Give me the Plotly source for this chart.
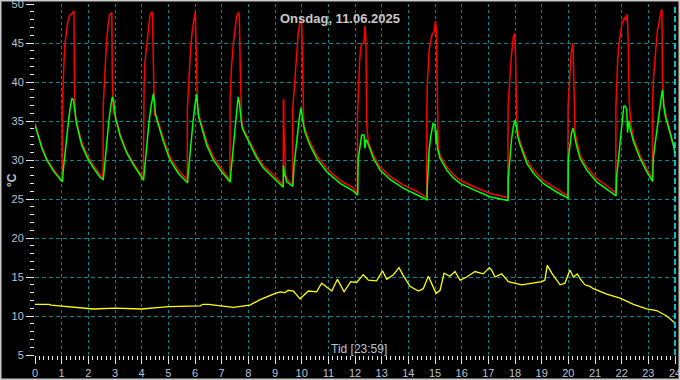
import plotly.graph_objects as go

# ---- data ----
red_t = [0.00, 0.13, 0.25, 0.44, 0.69, 1.01,
         1.02, 1.025, 1.05, 1.11, 1.17, 1.24, 1.31, 1.40, 1.46, 1.48, 1.52, 1.56, 1.75, 1.96, 2.19, 2.44, 2.54,
         2.55, 2.56, 2.62, 2.68, 2.74, 2.80, 2.88, 2.90, 2.94, 3.02, 3.20, 3.44, 3.69, 3.94, 4.05,
         4.06, 4.065, 4.09, 4.12, 4.19, 4.25, 4.31, 4.40, 4.44, 4.48, 4.56, 4.81, 5.06, 5.37, 5.70,
         5.71, 5.715, 5.77, 5.83, 5.90, 5.96, 6.01, 6.06, 6.10, 6.19, 6.44, 6.69, 7.00, 7.30,
         7.31, 7.315, 7.37, 7.44, 7.50, 7.56, 7.62, 7.66, 7.70, 7.75, 7.81, 8.06, 8.31, 8.56, 8.94, 9.30,
         9.31, 9.315, 9.33, 9.335, 9.36, 9.40, 9.50, 9.65,
         9.66, 9.665, 9.69, 9.75, 9.81, 9.87, 9.94, 9.97, 10.00, 10.04, 10.08, 10.12, 10.31, 10.56, 10.94, 11.44, 11.94, 12.08,
         12.09, 12.095, 12.13, 12.17, 12.21, 12.25, 12.33, 12.38, 12.41, 12.44, 12.50, 12.69, 12.94, 13.31, 13.81, 14.31, 14.68,
         14.69, 14.695, 14.71, 14.75, 14.78, 14.84, 14.90, 14.96, 15.02, 15.05, 15.09, 15.12, 15.19, 15.44, 15.69, 15.94, 16.44, 17.06, 17.72,
         17.73, 17.74, 17.79, 17.84, 17.87, 17.91, 17.94, 17.99, 18.02, 18.06, 18.10, 18.19, 18.44, 18.69, 19.06, 19.56, 19.97,
         19.98, 19.99, 20.03, 20.06, 20.10, 20.14, 20.16, 20.18, 20.21, 20.25, 20.44, 20.69, 21.06, 21.44, 21.77,
         21.78, 21.785, 21.81, 21.85, 21.90, 21.96, 22.02, 22.10, 22.16, 22.21, 22.25, 22.28, 22.35, 22.44, 22.69, 22.94, 23.14,
         23.15, 23.155, 23.19, 23.25, 23.29, 23.34, 23.39, 23.44, 23.48, 23.51, 23.53, 23.58, 23.64, 23.69, 23.81, 23.94, 24.00]
red_v = [34.7, 33.1, 31.8, 30.2, 28.8, 27.4,
         27.3, 37.1, 40.3, 44.5, 46.2, 47.9, 48.6, 48.8, 49.1, 39.4, 35.6, 34.8, 32.3, 30.6, 29.3, 28.1, 27.8,
         27.7, 37.0, 41.6, 45.0, 47.3, 48.6, 48.9, 40.0, 36.0, 35.6, 33.2, 31.1, 29.6, 28.3, 27.7,
         27.5, 36.5, 39.4, 42.4, 45.0, 47.1, 48.6, 49.0, 39.0, 35.8, 35.6, 32.8, 30.4, 28.7, 27.5,
         27.3, 36.5, 40.3, 44.1, 46.7, 48.2, 49.0, 42.0, 36.0, 35.3, 32.3, 30.4, 28.9, 27.6,
         27.4, 37.7, 42.0, 45.0, 47.1, 48.4, 48.9, 48.7, 41.2, 35.0, 34.0, 32.3, 30.6, 29.3, 28.1, 26.8,
         26.6, 37.7, 37.7, 34.1, 30.0, 28.0, 27.3, 26.9,
         26.9, 36.5, 37.7, 41.6, 44.1, 46.2, 47.7, 47.8, 47.5, 39.8, 34.5, 34.0, 32.3, 30.6, 28.9, 27.4, 26.4, 25.8,
         25.7, 36.0, 39.8, 42.4, 44.3, 44.9, 45.0, 47.2, 45.2, 34.5, 32.3, 30.6, 29.1, 27.9, 26.8, 26.0, 25.2,
         25.1, 36.0, 39.8, 42.0, 44.1, 45.3, 46.2, 46.3, 47.8, 46.5, 39.0, 31.7, 30.6, 29.1, 28.1, 27.4, 26.6, 25.7, 25.2,
         25.1, 36.8, 40.3, 42.2, 43.5, 44.5, 45.8, 46.2, 43.5, 36.0, 33.8, 32.3, 30.0, 28.7, 27.4, 26.3, 25.5,
         25.4, 36.8, 39.8, 42.0, 43.5, 44.4, 45.0, 44.5, 36.8, 33.5, 30.6, 29.1, 27.6, 26.7, 25.8,
         25.6, 36.8, 39.8, 42.7, 44.9, 46.4, 47.7, 48.2, 47.9, 48.7, 44.5, 37.7, 34.5, 32.8, 30.6, 28.9, 27.7,
         27.6, 36.8, 40.3, 42.9, 44.9, 46.6, 47.4, 48.5, 49.1, 49.3, 40.0, 37.2, 35.8, 35.2, 33.8, 32.1, 31.1]

green_t = [0.00, 0.13, 0.25, 0.44, 0.69, 1.02,
           1.03, 1.06, 1.12, 1.19, 1.25, 1.31, 1.38, 1.44, 1.50, 1.56, 1.75, 1.96, 2.19, 2.44, 2.55,
           2.56, 2.59, 2.65, 2.71, 2.77, 2.83, 2.90, 2.95, 2.99, 3.02, 3.20, 3.44, 3.69, 3.94, 4.06,
           4.07, 4.10, 4.16, 4.22, 4.28, 4.35, 4.42, 4.44, 4.48, 4.52, 4.56, 4.81, 5.06, 5.37, 5.71,
           5.72, 5.75, 5.81, 5.87, 5.93, 5.99, 6.04, 6.06, 6.10, 6.14, 6.19, 6.44, 6.69, 7.00, 7.31,
           7.32, 7.35, 7.41, 7.47, 7.53, 7.58, 7.62, 7.66, 7.71, 7.76, 7.81, 8.06, 8.31, 8.56, 8.94, 9.31,
           9.315, 9.36, 9.44, 9.55, 9.66,
           9.67, 9.71, 9.77, 9.82, 9.89, 9.94, 9.98, 10.02, 10.06, 10.12, 10.31, 10.56, 10.94, 11.44, 11.94, 12.09,
           12.10, 12.12, 12.19, 12.25, 12.34, 12.37, 12.41, 12.44, 12.50, 12.69, 12.94, 13.31, 13.81, 14.31, 14.69,
           14.70, 14.71, 14.75, 14.78, 14.84, 14.90, 14.93, 15.00, 15.04, 15.06, 15.09, 15.19, 15.44, 15.69, 15.94, 16.44, 17.06, 17.73,
           17.74, 17.75, 17.81, 17.87, 17.94, 18.00, 18.04, 18.10, 18.19, 18.44, 18.69, 19.06, 19.56, 19.98,
           19.99, 20.00, 20.06, 20.12, 20.18, 20.25, 20.29, 20.44, 20.69, 21.06, 21.44, 21.78,
           21.79, 21.81, 21.87, 21.94, 22.00, 22.04, 22.08, 22.14, 22.19, 22.22, 22.27, 22.32, 22.44, 22.69, 22.94, 23.15,
           23.16, 23.19, 23.25, 23.31, 23.37, 23.44, 23.50, 23.53, 23.58, 23.64, 23.69, 23.81, 23.94, 24.00]
green_v = [34.5, 32.9, 31.6, 30.0, 28.6, 27.2,
           27.3, 28.7, 30.9, 33.0, 34.8, 36.5, 37.9, 37.7, 35.7, 34.6, 31.9, 30.3, 29.0, 27.8, 27.5,
           27.5, 28.5, 31.0, 33.2, 35.0, 36.6, 38.1, 37.5, 35.8, 35.4, 33.0, 30.9, 29.4, 28.1, 27.4,
           27.4, 28.5, 31.0, 33.2, 35.0, 36.8, 38.3, 38.5, 37.5, 35.8, 35.3, 32.4, 30.0, 28.3, 27.1,
           27.1, 28.5, 31.0, 33.2, 35.0, 36.8, 38.2, 38.4, 37.0, 35.5, 34.9, 31.9, 30.0, 28.5, 27.2,
           27.2, 28.5, 31.0, 33.2, 35.0, 36.8, 38.1, 37.4, 35.5, 34.3, 33.8, 32.0, 30.3, 29.0, 27.7, 26.5,
           29.3, 28.2, 27.2, 26.9, 26.6,
           26.6, 29.1, 31.3, 33.0, 34.7, 36.1, 36.7, 35.5, 34.5, 33.6, 31.9, 30.2, 28.5, 27.0, 26.0, 25.5,
           25.5, 30.1, 31.7, 33.2, 33.2, 31.5, 32.6, 32.5, 32.0, 30.2, 28.7, 27.5, 26.4, 25.6, 24.9,
           24.9, 26.5, 29.7, 31.3, 33.0, 34.5, 34.7, 34.5, 32.1, 33.8, 31.5, 30.2, 28.7, 27.7, 27.0, 26.2, 25.3, 24.8,
           24.8, 27.8, 30.8, 32.6, 34.3, 35.1, 34.7, 33.0, 32.0, 29.6, 28.3, 27.0, 25.9, 25.1,
           25.1, 30.1, 32.1, 33.5, 34.1, 33.0, 32.1, 30.2, 28.7, 27.2, 26.3, 25.4,
           25.4, 27.8, 29.8, 32.4, 34.5, 36.1, 36.9, 36.9, 36.4, 33.5, 35.0, 34.0, 32.4, 30.2, 28.5, 27.3,
           27.3, 30.4, 32.1, 33.8, 35.5, 37.1, 38.4, 39.0, 36.9, 35.6, 35.0, 33.6, 31.9, 30.9]

yellow_t = [0.00, 0.54, 0.60, 0.94, 1.56, 2.19, 3.00, 4.00, 4.69, 5.00, 6.19, 6.30, 6.50, 6.94, 7.44,
            8.06, 8.44, 8.94, 9.19, 9.37, 9.50, 9.69, 9.94, 10.25, 10.56, 10.75, 10.94, 11.13, 11.34,
            11.59, 11.84, 12.06, 12.31, 12.50, 12.81, 13.03, 13.19, 13.44, 13.65, 13.79, 14.06, 14.38,
            14.56, 14.75, 15.04, 15.19, 15.34, 15.56, 15.75, 15.94, 16.19, 16.50, 16.81, 17.04, 17.12,
            17.25, 17.50, 17.75, 18.25, 18.69, 19.00, 19.12, 19.21, 19.38, 19.56, 19.69, 19.87, 20.06,
            20.19, 20.34, 20.44, 20.62, 20.81, 20.94, 21.44, 21.94, 22.44, 22.94, 23.31, 23.69, 24.00]
yellow_v = [11.5, 11.5, 11.4, 11.3, 11.1, 10.9, 11.0, 10.9, 11.1, 11.2, 11.3, 11.5, 11.5, 11.3, 11.1,
            11.4, 12.1, 12.8, 13.1, 13.0, 13.3, 13.2, 12.2, 13.2, 13.1, 14.2, 13.7, 13.2, 14.7,
            13.1, 14.4, 14.3, 15.3, 14.6, 14.5, 15.8, 14.7, 15.3, 16.2, 15.3, 13.8, 13.2,
            13.5, 15.1, 12.9, 13.3, 15.5, 15.1, 15.7, 14.6, 15.0, 15.7, 15.4, 16.2, 15.9,
            15.0, 15.4, 14.4, 14.0, 14.2, 14.4, 14.6, 16.5, 15.5, 14.6, 14.0, 14.2, 15.9,
            15.0, 15.4, 14.8, 14.0, 13.8, 13.5, 12.8, 12.3, 11.5, 10.9, 10.7, 10.0, 9.1]

x_ticks = list(range(0, 25))
y_ticks = list(range(5, 51, 5))
title_text = "Onsdag, 11.06.2025"
x_title = "Tid [23:59]"
y_title = "°C"

# ---- figure ----
fig = go.Figure()
fig.add_trace(go.Scatter(x=red_t, y=red_v, mode="lines",
                         line=dict(color="#ff0000", width=1.5), hoverinfo="skip"))
fig.add_trace(go.Scatter(x=green_t, y=green_v, mode="lines",
                         line=dict(color="#00ff00", width=1.5), hoverinfo="skip"))
fig.add_trace(go.Scatter(x=yellow_t, y=yellow_v, mode="lines",
                         line=dict(color="#ffff00", width=1.3), hoverinfo="skip"))

tick_col = "#e6e6e6"
lab_col = "#b8c4d2"
grid_col = "#008c8c"

fig.update_layout(
    width=680, height=380,
    margin=dict(l=35, r=5, t=4, b=25, autoexpand=False),
    paper_bgcolor="#000000", plot_bgcolor="#000000",
    showlegend=False,
    font=dict(family="Liberation Sans, Arial, sans-serif", size=11, color=lab_col),
    xaxis=dict(range=[0, 24], tickvals=x_ticks, ticks="outside", ticklen=8,
               tickcolor=tick_col, tickwidth=1, ticklabeloverflow="allow",
               minor=dict(dtick=1/6, ticks="outside", ticklen=4, tickcolor=tick_col,
                          tickwidth=1, showgrid=False),
               showgrid=True, gridcolor=grid_col, griddash="3px,3px", gridwidth=1,
               zeroline=False, showline=False, fixedrange=True,
               tickfont=dict(size=11, color=lab_col)),
    yaxis=dict(range=[5, 50], tickvals=y_ticks, ticks="outside", ticklen=8,
               tickcolor=tick_col, tickwidth=1, ticklabeloverflow="allow",
               minor=dict(dtick=1, ticks="outside", ticklen=4, tickcolor=tick_col,
                          tickwidth=1, showgrid=False),
               showgrid=True, gridcolor=grid_col, griddash="4px,3px", gridwidth=1,
               zeroline=False, showline=False, fixedrange=True,
               tickfont=dict(size=11, color=lab_col)),
    annotations=[
        dict(text="<b>" + title_text + "</b>", xref="paper", yref="paper",
             x=0.477, y=0.96, showarrow=False, xanchor="center", yanchor="middle",
             font=dict(size=13, color="#c8c8c8")),
        dict(text=x_title, xref="paper", yref="paper",
             x=0.506, y=0.017, showarrow=False, xanchor="center", yanchor="middle",
             font=dict(size=12, color=lab_col)),
        dict(text="<b>" + y_title + "</b>", xref="paper", yref="paper",
             x=-0.036, y=0.4986, showarrow=False, textangle=-90,
             xanchor="center", yanchor="middle",
             font=dict(size=12, color=lab_col)),
    ],
    shapes=[
        dict(type="line", xref="paper", yref="paper", x0=1.0, x1=1.0, y0=0, y1=1,
             line=dict(color="#00ffff", width=1.5, dash="6px,3px")),
        dict(type="rect", xref="paper", yref="paper",
             x0=(0.75 - 35) / 640, x1=(679.25 - 35) / 640,
             y0=(355 - 379.25) / 351, y1=(355 - 0.75) / 351,
             line=dict(color="#c8c8c8", width=1.5)),
    ],
)

fig.write_html("out.html", config={"displayModeBar": False},
               post_script="document.body.style.margin='0px';document.body.style.overflow='hidden';")
